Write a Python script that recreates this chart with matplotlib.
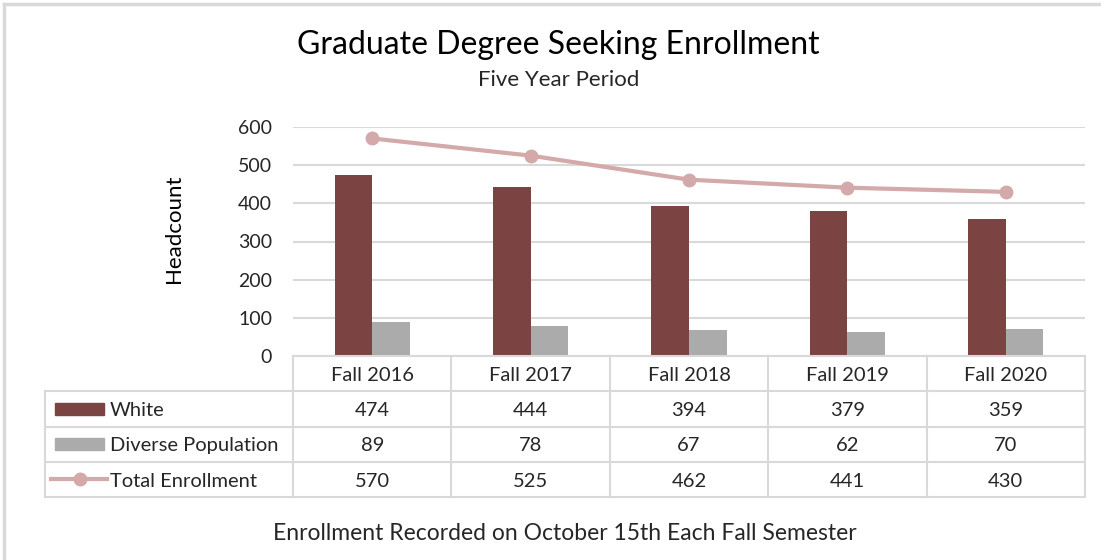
import matplotlib.pyplot as plt
import numpy as np
from matplotlib.lines import Line2D
from matplotlib.patches import Rectangle

plt.rcParams['font.family'] = ['Lato', 'DejaVu Sans']

semesters = ['Fall 2016', 'Fall 2017', 'Fall 2018', 'Fall 2019', 'Fall 2020']
white = [474, 444, 394, 379, 359]
diverse = [89, 78, 67, 62, 70]
total = [570, 525, 462, 441, 430]
series_names = ['White', 'Diverse Population', 'Total Enrollment']

maroon = '#7B4443'
grey = '#ABABAB'
pink = '#D3A9A9'
rule = '#D9D9D9'
ink = '#262626'

W, H = 1101, 560
fig = plt.figure(figsize=(W / 100, H / 100), dpi=100)

def px_box(x0, y0, x1, y1):
    # pixel box (top-left origin) -> figure fraction rect
    return [x0 / W, 1 - y1 / H, (x1 - x0) / W, (y1 - y0) / H]

# chart frame
fig.add_artist(Line2D([4 / W, 4 / W], [0, 1 - 4 / H], color=rule, lw=2.5))
fig.add_artist(Line2D([4 / W, 1], [1 - 4 / H, 1 - 4 / H], color=rule, lw=2.5))

ax = fig.add_axes(px_box(293, 127, 1085, 356))
x = np.arange(len(semesters))
bw = 0.237
ax.bar(x - bw / 2, white, bw, color=maroon, zorder=2)
ax.bar(x + bw / 2, diverse, bw, color=grey, zorder=2)
ax.plot(x, total, color=pink, lw=3, marker='o', ms=9, zorder=3)
ax.set_xlim(-0.5, len(semesters) - 0.5)
ax.set_ylim(0, 600)
ax.set_yticks(range(0, 601, 100))
ax.yaxis.grid(True, color=rule, lw=1.5, zorder=0)
ax.set_xticks([])
ax.tick_params(axis='y', length=0, pad=15, labelsize=14, labelcolor=ink)
for s in ax.spines.values():
    s.set_visible(False)
fig.text(174 / W, 1 - 229 / H, 'Headcount', rotation=90, ha='center', va='center',
         fontsize=16, color='black')

# data table underneath, same category spacing as the plot
col_px = 158.4
left_cols = 248 / col_px
tx = fig.add_axes(px_box(45, 356, 1085, 497))
tx.set_xlim(-0.5 - left_cols, len(semesters) - 0.5)
tx.set_ylim(4, 0)
tx.axis('off')
x_lo = -0.5 - left_cols
x_hi = len(semesters) - 0.5
lk = dict(color=rule, lw=1.5, clip_on=False)
tx.plot([-0.5, x_hi], [0, 0], **lk)
for r in range(1, 5):
    tx.plot([x_lo, x_hi], [r, r], **lk)
tx.plot([x_lo, x_lo], [1, 4], **lk)
for c in range(len(semesters) + 1):
    tx.plot([c - 0.5, c - 0.5], [0, 4], **lk)

for i, s in enumerate(semesters):
    tx.text(i, 0.55, s, ha='center', va='center', fontsize=14.5, color=ink)
rows = [white, diverse, total]
for r, vals in enumerate(rows):
    for i, v in enumerate(vals):
        tx.text(i, r + 1.55, str(v), ha='center', va='center', fontsize=14.5, color=ink)

# legend keys in the first column
def to_x(px):
    return x_lo + (px - 45) / col_px
tx.add_patch(Rectangle((to_x(55), 1.34), to_x(104) - to_x(55), 0.34, color=maroon, clip_on=False))
tx.add_patch(Rectangle((to_x(55), 2.34), to_x(104) - to_x(55), 0.34, color=grey, clip_on=False))
tx.plot([to_x(51), to_x(107)], [3.5, 3.5], color=pink, lw=3, clip_on=False)
tx.plot([to_x(80)], [3.5], color=pink, marker='o', ms=9, clip_on=False)
for r, name in enumerate(series_names):
    tx.text(to_x(110), r + 1.55, name, ha='left', va='center', fontsize=14.5, color=ink)

fig.text(558 / W, 1 - 45 / H, 'Graduate Degree Seeking Enrollment', ha='center', va='center',
         fontsize=23, color='black')
fig.text(559 / W, 1 - 80 / H, 'Five Year Period', ha='center', va='center', fontsize=16, color=ink)
fig.text(565 / W, 1 - 533 / H, 'Enrollment Recorded on October 15th Each Fall Semester',
         ha='center', va='center', fontsize=16.5, color=ink)

fig.savefig('out.png', dpi=100)
